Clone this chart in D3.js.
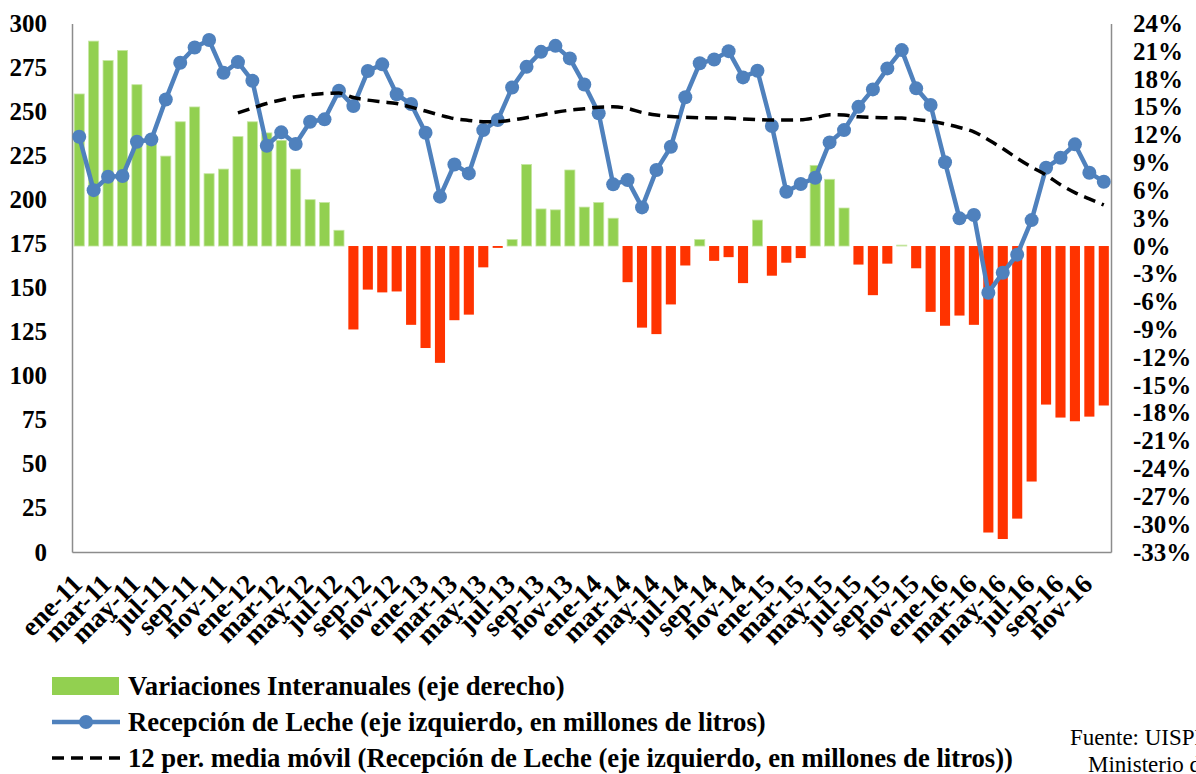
<!DOCTYPE html>
<html>
<head>
<meta charset="utf-8">
<script src="https://cdn.jsdelivr.net/npm/d3@7"></script>
<style>
  body { margin: 0; background: #fff; overflow: hidden; }
  svg { display: block; }
  text { font-family: "Liberation Serif", "Times New Roman", serif; }
</style>
</head>
<body>
<svg id="chart" width="1196" height="774"></svg>
<script>
const months = ['ene', 'feb', 'mar', 'abr', 'may', 'jun', 'jul', 'ago', 'sep', 'oct', 'nov', 'dic'];
const years = ['11', '12', '13', '14', '15', '16'];
const categories = years.flatMap((y) => months.map((m) => `${m}-${y}`));

// Recepción de Leche (millones de litros), eje izquierdo
const recepcion = [
  235.7, 205.4, 213.0, 213.4, 232.9, 234.2, 256.9, 277.7, 286.4, 290.6, 272.0, 278.1,
  267.5, 230.6, 238.2, 231.6, 244.2, 245.6, 261.8, 253.1, 273.0, 276.8, 259.8, 254.3,
  238.0, 201.7, 220.0, 214.9, 239.5, 245.2, 263.7, 275.4, 283.9, 287.3, 280.2, 265.4,
  249.0, 208.7, 211.1, 195.6, 216.8, 230.0, 258.1, 277.4, 279.6, 284.3, 269.4, 273.2,
  241.8, 204.5, 208.9, 212.4, 232.5, 239.5, 252.7, 262.6, 274.5, 284.9, 263.2, 253.7,
  221.2, 189.4, 191.3, 147.2, 158.5, 168.8, 188.4, 218.1, 223.8, 231.4, 215.3, 210.2,
];

// Variaciones interanuales (%), eje derecho
const variaciones = [
  16.4, 22.1, 20.0, 21.1, 17.4, 11.5, 9.7, 13.4, 15.0, 7.8, 8.3, 11.8,
  13.4, 12.2, 11.4, 8.3, 5.0, 4.7, 1.7, -9.0, -4.7, -5.0, -4.9, -8.5,
  -11.0, -12.6, -8.0, -7.4, -2.3, -0.2, 0.7, 8.8, 4.0, 3.9, 8.2, 4.2,
  4.7, 3.0, -3.9, -8.8, -9.5, -6.3, -2.1, 0.7, -1.6, -1.2, -4.0, 2.8,
  -3.2, -1.8, -1.3, 8.7, 7.2, 4.1, -2.0, -5.3, -1.9, 0.1, -2.4, -7.1,
  -8.6, -7.5, -8.5, -30.9, -31.6, -29.4, -25.4, -17.1, -18.5, -18.9, -18.4, -17.2,
];

// 12 per. media móvil, desde dic-11 (índice 11)
const mediaMovil = [
  249.3,
  252.0, 254.6, 256.6, 258.4, 259.5, 260.3, 260.5, 258.0, 256.5, 255.5, 254.6, 252.5,
  250.3, 248.0, 246.0, 245.0, 244.3, 244.3, 245.2, 246.5, 248.0, 249.6, 250.8, 251.6,
  252.5, 252.7, 251.8, 249.5, 248.0, 247.2, 246.8, 246.5, 246.4, 246.3, 245.8, 245.4,
  245.2, 245.2, 245.3, 246.5, 248.2, 248.0, 247.0, 246.7, 246.5, 246.3, 245.5, 244.5,
  243.0, 241.0, 238.5, 234.0, 229.0, 223.5, 218.5, 214.0, 208.5, 204.0, 200.5, 197.0,
];
const mediaStart = 11;

const leftTicks = d3.range(0, 301, 25);
const rightTicks = d3.range(-33, 25, 3);

const legendItems = [
  'Variaciones Interanuales (eje derecho)',
  'Recepción de Leche (eje izquierdo, en millones de litros)',
  '12 per. media móvil (Recepción de Leche (eje izquierdo, en millones de litros))',
];

const green = '#92D050';
const red = '#FF3300';
const blue = '#4F81BD';

const margin = { top: 23.5, left: 72, right: 1111, bottom: 552 };

const svg = d3.select('#chart');

const x = d3.scaleBand()
  .domain(categories)
  .range([margin.left, margin.right])
  .paddingInner(0.3)
  .paddingOuter(0.15);

const yL = d3.scaleLinear().domain([0, 300]).range([margin.bottom, margin.top]);
const yR = d3.scaleLinear().domain([-33, 24]).range([margin.bottom, margin.top]);

const cx = (d) => x(d) + x.bandwidth() / 2;

// bars
svg.append('g')
  .selectAll('rect')
  .data(variaciones)
  .join('rect')
  .attr('x', (d, i) => x(categories[i]))
  .attr('width', x.bandwidth())
  .attr('y', (d) => yR(Math.max(0, d)))
  .attr('height', (d) => Math.abs(yR(d) - yR(0)))
  .attr('fill', (d) => (d >= 0 ? green : red))
  .attr('stroke', (d) => (d >= 0 ? '#C6E6A3' : 'none'))
  .attr('stroke-width', 0.8);

// axes
const axisStyle = (size) => (g) => {
  g.select('.domain').attr('stroke', '#8C8C8C').attr('stroke-width', 1.5);
  g.selectAll('text')
    .attr('fill', '#000')
    .style('font-size', `${size}px`)
    .style('font-weight', 'bold');
};

svg.append('g')
  .attr('transform', `translate(${margin.left},0)`)
  .call(d3.axisLeft(yL).tickValues(leftTicks).tickSize(0).tickPadding(25))
  .call(axisStyle(25));

svg.append('g')
  .attr('transform', `translate(${margin.right},0)`)
  .call(d3.axisRight(yR).tickValues(rightTicks).tickSize(0).tickPadding(22)
    .tickFormat((d) => `${d}%`))
  .call(axisStyle(25));

const xAxis = svg.append('g')
  .attr('transform', `translate(0,${margin.bottom})`)
  .call(d3.axisBottom(x)
    .tickValues(categories.filter((d, i) => i % 2 === 0))
    .tickSize(0)
    .tickSizeOuter(0))
  .call(axisStyle(27));

xAxis.selectAll('text')
  .attr('text-anchor', 'end')
  .attr('y', 0)
  .attr('dy', '0.35em')
  .attr('transform', 'translate(-2,27) rotate(-45)');

// milk reception line
svg.append('path')
  .datum(recepcion)
  .attr('fill', 'none')
  .attr('stroke', blue)
  .attr('stroke-width', 4.5)
  .attr('stroke-linejoin', 'round')
  .attr('d', d3.line().x((d, i) => cx(categories[i])).y((d) => yL(d)));

svg.append('g')
  .selectAll('circle')
  .data(recepcion)
  .join('circle')
  .attr('cx', (d, i) => cx(categories[i]))
  .attr('cy', (d) => yL(d))
  .attr('r', 7)
  .attr('fill', blue);

// moving average
svg.append('path')
  .datum(mediaMovil)
  .attr('fill', 'none')
  .attr('stroke', '#000')
  .attr('stroke-width', 3.5)
  .attr('stroke-dasharray', '12 7')
  .attr('d', d3.line()
    .curve(d3.curveMonotoneX)
    .x((d, i) => cx(categories[i + mediaStart]))
    .y((d) => yL(d)));

// legend
const legend = svg.append('g').attr('transform', 'translate(52,686)');
const rowH = 36;

legend.append('rect')
  .attr('x', 0).attr('y', -9)
  .attr('width', 67).attr('height', 18)
  .attr('fill', green);

legend.append('line')
  .attr('x1', 0).attr('x2', 68)
  .attr('y1', rowH).attr('y2', rowH)
  .attr('stroke', blue).attr('stroke-width', 4.5);
legend.append('circle')
  .attr('cx', 34).attr('cy', rowH).attr('r', 7)
  .attr('fill', blue);

legend.append('line')
  .attr('x1', 0).attr('x2', 68)
  .attr('y1', rowH * 2).attr('y2', rowH * 2)
  .attr('stroke', '#000').attr('stroke-width', 3.5)
  .attr('stroke-dasharray', '12 7');

legend.selectAll('text.item')
  .data(legendItems)
  .join('text')
  .attr('class', 'item')
  .attr('x', 76)
  .attr('y', (d, i) => i * rowH)
  .attr('dy', '0.35em')
  .style('font-size', '26.7px')
  .style('font-weight', 'bold')
  .text((d) => d);

// source note, cut at the page edge as in the original
svg.append('text')
  .attr('x', 1070).attr('y', 745)
  .style('font-size', '23px')
  .text('Fuente: UISPLL');
svg.append('text')
  .attr('x', 1088).attr('y', 772)
  .style('font-size', '23px')
  .text('Ministerio de Agroindustria');
</script>
</body>
</html>
